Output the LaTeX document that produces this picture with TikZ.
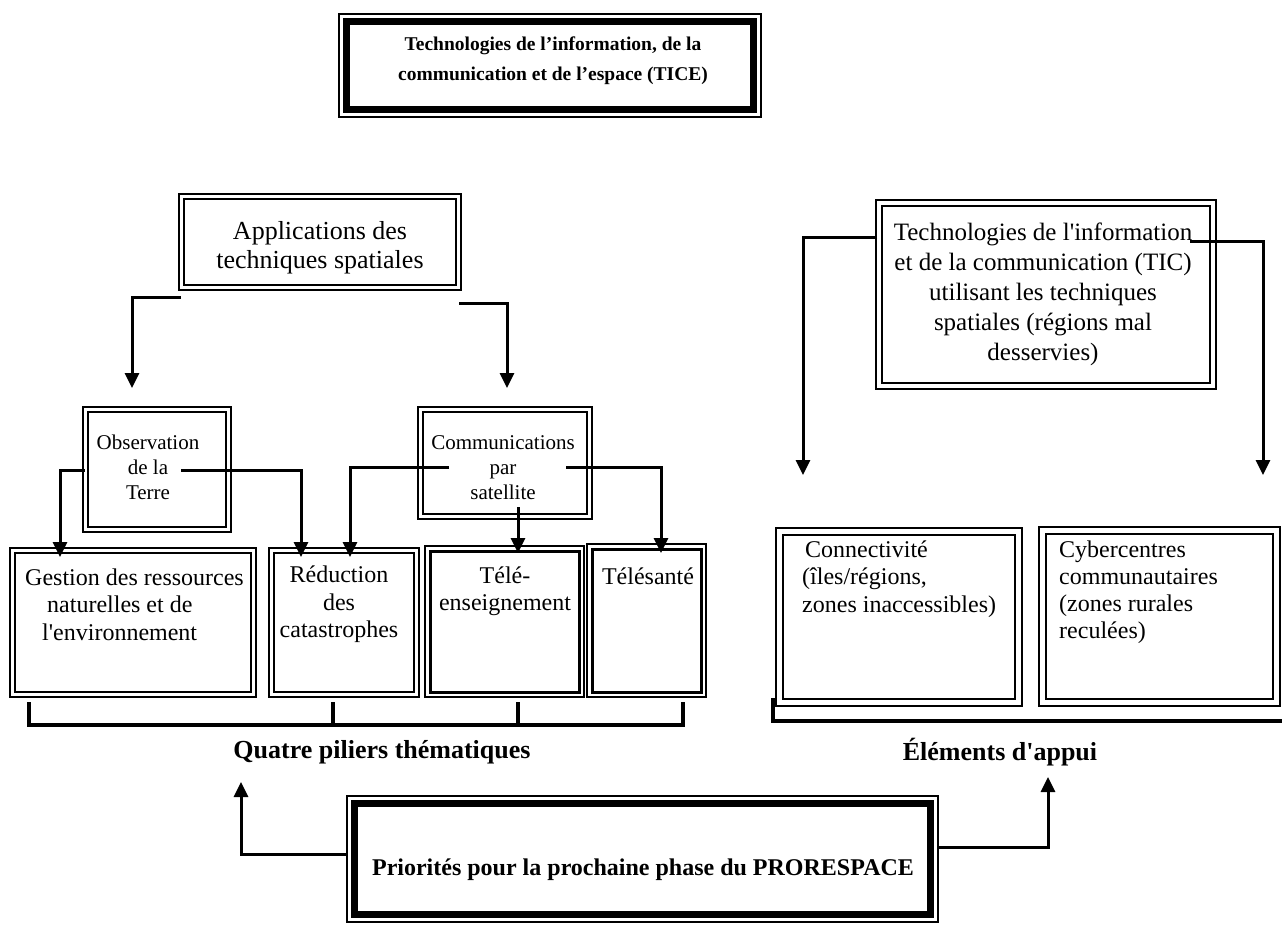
\documentclass[tikz,border=0pt]{standalone}
\usepackage{fontspec}
\setmainfont{Liberation Serif}
\usetikzlibrary{arrows.meta}
\newcommand\innerframe[3]{\draw[line width=#2] ([xshift=#3,yshift=-#3]#1.north west) rectangle ([xshift=-#3,yshift=#3]#1.south east);}
% name, x, y, w, h, outer lw, inner lw, offset
\newcommand\mybox[8]{\node[draw, line width=#6, inner sep=0pt, outer sep=0pt, anchor=north west, minimum width=#4pt, minimum height=#5pt] (#1) at (#2,#3) {};\innerframe{#1}{#7}{#8}}
\begin{document}
\begin{tikzpicture}[x=1pt,y=-1pt,
  lbl/.style={inner sep=0pt, align=center},
  fbig/.style={font=\fontsize{26}{29}\selectfont},
  fmid/.style={font=\fontsize{24}{27.5}\selectfont},
  fsmall/.style={font=\fontsize{21}{25}\selectfont},
  ftic/.style={font=\fontsize{25}{30}\selectfont},
  conn/.style={line width=3pt, -{Triangle[width=14pt,length=15pt]}},
  bracket/.style={line width=4.5pt},
]
\useasboundingbox[fill=white] (0,0) rectangle (1282,924);

% boxes
\mybox{title}{339}{14}{422}{103}{1.5pt}{7pt}{7.5pt}
\mybox{apps}{179}{194}{282}{96}{2.2pt}{2.2pt}{5pt}
\mybox{obs}{83}{407}{148}{125}{2.5pt}{1.3pt}{5pt}
\mybox{comm}{418}{407}{174}{112}{2.5pt}{1.3pt}{5pt}
\mybox{gest}{10}{548}{246}{149}{1.5pt}{2.5pt}{5pt}
\mybox{reduc}{269}{548}{150}{149}{1.5pt}{2.5pt}{5pt}
\mybox{tele}{425}{546}{159}{151}{1.5pt}{3pt}{5pt}
\mybox{sante}{587}{544}{119}{153}{1.5pt}{3pt}{5pt}
\mybox{tic}{876}{200}{340}{189}{2.5pt}{1.5pt}{6pt}
\mybox{connect}{776}{528}{246}{178}{2.5pt}{2.5pt}{7pt}
\mybox{cyber}{1039}{527}{241}{179}{2.5pt}{2.5pt}{7pt}
\mybox{prior}{347}{796}{591}{126}{1.5pt}{7pt}{7.5pt}

% texts
\node[lbl, font=\fontsize{19.5}{30}\selectfont\bfseries] (titleT) at (553,61) {Technologies de l’information, de la\\communication et de l’espace (TICE)};
\node[lbl, fbig] (appsT) at (320,247.5) {Applications des\\techniques spatiales};
\node[lbl, fsmall] (obsT) at (148,467.5) {Observation\\de la\\Terre};
\node[lbl, fsmall] (commT) at (503,467.5) {Communications\\par\\satellite};
\node[lbl, fmid, align=left, anchor=west] (gestT) at (25,604.5) {Gestion des ressources\\\hspace*{22pt}naturelles et de\\\hspace*{17pt}l\textquotesingle environnement};
\node[lbl, fmid] (reducT) at (339,604.5) {Réduction\\des\\catastrophes};
\node[lbl, fmid] (teleT) at (505,591) {Télé-\\enseignement};
\node[lbl, fmid] (santeT) at (648,576) {Télésanté};
\node[lbl, ftic] (ticT) at (1043,294) {Technologies de l\textquotesingle information\\et de la communication (TIC)\\utilisant les techniques\\spatiales (régions mal\\desservies)};
\node[lbl, fmid, align=left, anchor=west] (connT) at (802,579) {\hspace*{3pt}Connectivité\\(îles/régions,\\zones inaccessibles)};
\node[lbl, font=\fontsize{24}{27}\selectfont, align=left, anchor=west] (cyberT) at (1059,592) {Cybercentres\\communautaires\\(zones rurales\\reculées)};
\node[lbl, font=\fontsize{26}{29}\selectfont\bfseries] (quatre) at (382,752) {Quatre piliers thématiques};
\node[lbl, font=\fontsize{26}{29}\selectfont\bfseries] (elem) at (1000,752) {Éléments d\textquotesingle appui};
\node[lbl, font=\fontsize{24}{27}\selectfont\bfseries] (priorT) at (643,870) {Priorités pour la prochaine phase du PRORESPACE};

% connector points
\coordinate (a1s) at (181,297); \coordinate (a1t) at (132,388);
\coordinate (a2s) at (459,303); \coordinate (a2t) at (507,388);
\coordinate (o1s) at (85,470);  \coordinate (o1t) at (60,557);
\coordinate (o2s) at (181,470); \coordinate (o2t) at (301,557);
\coordinate (c1s) at (449,467); \coordinate (c1t) at (350,557);
\coordinate (c2s) at (518,507); \coordinate (c2t) at (518,553);
\coordinate (c3s) at (566,467); \coordinate (c3t) at (661,553);
\coordinate (t1s) at (877,237); \coordinate (t1t) at (803,475);
\coordinate (t2s) at (1190,241); \coordinate (t2t) at (1263,475);
\coordinate (p1t) at (241,782);
\coordinate (p2t) at (1048,777);

\draw[conn] (a1s) -| (a1t);
\draw[conn] (a2s) -| (a2t);
\draw[conn] (o1s) -| (o1t);
\draw[conn] (o2s) -| (o2t);
\draw[conn] (c1s) -| (c1t);
\draw[conn] (c2s) -- (c2t);
\draw[conn] (c3s) -| (c3t);
\draw[conn] (t1s) -| (t1t);
\draw[conn] (t2s) -| (t2t);
\draw[conn] (prior.west |- 0,854) -| (p1t);
\draw[conn] (prior.east |- 0,847) -| (p2t);

% brackets
\coordinate (bl) at (29,702); \coordinate (br) at (683,702);
\draw[bracket] (bl) -- (29,725) -- (683,725) -- (br);
\draw[bracket] (333,702) -- (333,725);
\draw[bracket] (518,702) -- (518,725);
\coordinate (bl2) at (773,698); \coordinate (br2) at (1282,721);
\draw[bracket] (bl2) |- (br2);
\end{tikzpicture}
\end{document}
